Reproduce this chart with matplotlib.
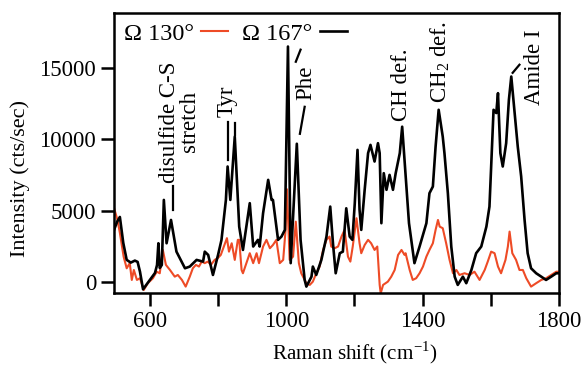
import matplotlib
matplotlib.use("Agg")
import matplotlib.pyplot as plt

plt.rcParams['font.family'] = ['Liberation Serif', 'DejaVu Serif']
plt.rcParams['mathtext.fontset'] = 'custom'
plt.rcParams['mathtext.rm'] = 'Liberation Serif'

# Omega 167 deg (black)
shift_167 = [495, 504, 512, 522, 532, 544, 556, 564, 571, 580, 600, 615, 621, 625, 629, 635,
             641, 649, 662, 678, 703, 717, 737, 756, 761, 771, 785, 800, 810, 823, 828, 836,
             849, 862, 873, 893, 903, 917, 922, 932, 947, 957, 961, 976, 986, 996, 1005, 1013,
             1031, 1042, 1054, 1059, 1074, 1078, 1088, 1103, 1118, 1129, 1137, 1145, 1157, 1166,
             1176, 1186, 1194, 1201, 1209, 1215, 1220, 1230, 1240, 1247, 1259, 1269, 1274, 1279,
             1286, 1294, 1303, 1313, 1321, 1333, 1340, 1360, 1376, 1391, 1411, 1420, 1430, 1438,
             1447, 1459, 1464, 1474, 1484, 1494, 1503, 1518, 1528, 1543, 1557, 1572, 1587, 1596,
             1601, 1608, 1616, 1621, 1628, 1635, 1645, 1653, 1660, 1669, 1679, 1689, 1699, 1708,
             1718, 1733, 1748, 1762, 1777, 1792, 1800]
int_167 = [3640, 4220, 4550, 2720, 1530, 1340, 1480, 1390, 700, -540, 120, 610, 1170, 2700, 960, 1170,
           5750, 2700, 4340, 2110, 940, 1060, 1530, 1410, 2110, 1880, 470, 1880, 2930, 5750, 8100, 5750,
           10200, 3870, 2230, 5520, 2470, 2940, 2470, 4810, 7160, 5750, 5750, 2940, 3170, 3640, 16540, 1300,
           9700, 2940, 120, -350, 350, 1060, 470, 1530, 3170, 5280, 2700, 590, 2000, 2110,
           5160, 3170, 2940, 5520, 9270, 5050, 3640, 6460, 9040, 9620, 8450, 9740, 9040, 4110,
           7630, 6460, 7510, 6460, 7630, 9040, 10900, 4110, 1300, 2470, 4110, 6220, 6690, 9500,
           12090, 10200, 9040, 6220, 2470, 350, -230, 350, -110, 820, 2000, 2470, 3870, 5280,
           8100, 12090, 11860, 13260, 9040, 8100, 9740, 12790, 14430, 12090, 9500, 7400, 4340, 2000,
           940, 590, 350, 120, 350, 590, 590]

# Omega 130 deg (red)
shift_130 = [495, 505, 512, 523, 532, 541, 547, 553, 562, 571, 582, 594, 609, 620, 629, 638,
             647, 659, 673, 682, 694, 705, 717, 726, 735, 744, 752, 761, 770, 779, 790, 799,
             808, 817, 826, 832, 840, 849, 858, 862, 869, 873, 883, 893, 903, 913, 920, 932,
             942, 952, 961, 971, 981, 991, 998, 1002, 1010, 1020, 1028, 1037, 1044, 1059, 1069,
             1078, 1088, 1098, 1108, 1118, 1127, 1132, 1142, 1152, 1162, 1171, 1181, 1188, 1195,
             1206, 1215, 1220, 1230, 1240, 1249, 1259, 1267, 1274, 1277, 1284, 1298, 1308, 1318,
             1328, 1338, 1347, 1350, 1362, 1371, 1381, 1391, 1401, 1411, 1420, 1430, 1438, 1445,
             1450, 1459, 1469, 1479, 1489, 1499, 1508, 1523, 1538, 1552, 1567, 1582, 1591, 1601,
             1611, 1621, 1630, 1643, 1650, 1655, 1663, 1674, 1684, 1694, 1704, 1718, 1733, 1748,
             1762, 1777, 1792, 1800]
int_130 = [5170, 4340, 3430, 1760, 940, 1300, 120, 820, 120, 240, -590, -110, 240, 700, 590, 2230,
           1180, 820, 350, 470, 120, -350, 350, 940, 1180, 1060, 1410, 1300, 1410, 1180, 1530, 1650,
           1880, 2470, 3060, 2110, 2700, 1530, 2940, 2940, 820, 590, 1300, 2000, 1300, 2000, 1300, 2470,
           2940, 2350, 2580, 2940, 1300, 1530, 3640, 6500, 1530, 1760, 4220, 1300, 590, -110, -230,
           0, 590, 1060, 2230, 2940, 3170, 2470, 2350, 2470, 3170, 3640, 1760, 1410, 2470,
           4460, 2700, 2000, 2580, 2940, 2700, 2230, 2470, -230, -820, -230, 0, 350, 820,
           1880, 2230, 1880, 2000, 820, 120, 240, 590, 1060, 1760, 2230, 2700, 3640, 4340,
           3870, 3760, 2700, 1530, 590, 820, 470, 590, 470, 700, 120, 820, 1410, 2110,
           2000, 1060, 590, 1530, 2470, 3520, 2000, 1530, 820, 820, 240, -350, -110, 120,
           240, 470, 700, 700]

# peak labels: text, x, y
labels = ["disulfide C-S\nstretch", "Tyr", "Phe", "CH def.", r"CH$_\mathregular{2}$ def.", "Amide I"]
label_x = [686, 826, 1057, 1338, 1452, 1728]
label_y = [11240, 12720, 13990, 13850, 15470, 15050]

# leader lines: (x0, x1), (y0, y1)
leaders = [((668, 668), (6720, 5050)),
           ((828, 828), (11240, 8570)),
           ((849, 849), (11170, 10330)),
           ((1028, 1042), (15470, 16320)),
           ((1040, 1054), (10400, 12300)),
           ((1664, 1684), (14690, 15260))]

fig = plt.figure(figsize=(5.82, 3.68), dpi=100)
ax = fig.add_axes([0.196, 0.203, 0.7645, 0.7617])

ax.plot(shift_130, int_130, color='#ee4b26', lw=1.5, label='Ω 130°')
ax.plot(shift_167, int_167, color='black', lw=1.9, label='Ω 167°')

for (xs, ys) in leaders:
    ax.plot(xs, ys, color='black', lw=1.6)

for t, x, y in zip(labels, label_x, label_y):
    ax.text(x, y, t, rotation=90, ha='center', va='center', fontsize=16.5,
            multialignment='center', linespacing=0.95)

ax.set_xlim(495, 1800)
ax.set_ylim(-820, 18900)
ax.set_xticks([600, 1000, 1400, 1800])
ax.set_xticks([800, 1200, 1600], minor=True)
ax.set_yticks([0, 5000, 10000, 15000])
ax.tick_params(which='both', direction='out', length=9.5, width=1.8, labelsize=16.4,
               pad=3.5, top=False, right=False)
for s in ax.spines.values():
    s.set_linewidth(1.8)

ax.set_xlabel(r'Raman shift (cm$^{\mathregular{-1}}$)', fontsize=15.2)
ax.set_ylabel('Intensity (cts/sec)', fontsize=16)
ax.xaxis.set_label_coords(0.54, -0.165)
ax.yaxis.set_label_coords(-0.19, 0.41)

leg = ax.legend(loc='upper left', ncol=2, markerfirst=False, fontsize=17.5, frameon=False,
                handlelength=1.1, handletextpad=0.3, columnspacing=0.6,
                borderaxespad=0.2, borderpad=0.2)

fig.savefig('out.png', dpi=100)
